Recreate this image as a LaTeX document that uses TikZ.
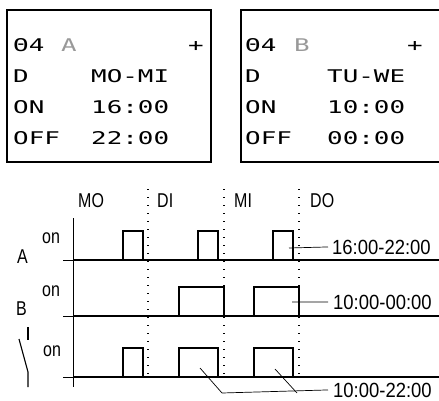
\documentclass[tikz,border=0pt]{standalone}
\usepackage{fontspec}
\newfontfamily\lcdfont[FakeStretch=1.48]{DejaVu Sans Mono}
\newfontfamily\condfont[FakeStretch=0.8]{Liberation Sans}
\newfontfamily\timefont[FakeStretch=0.9]{Liberation Sans}
\definecolor{lcdgray}{gray}{0.6}

\begin{document}
\begin{tikzpicture}[x=1pt,y=-1pt,
    lcd/.style={anchor=base west,inner sep=0pt,font=\lcdfont\fontsize{17.5}{20}\selectfont},
    lbl/.style={anchor=base west,inner sep=0pt,font=\condfont\fontsize{20}{22}\selectfont},
    tlbl/.style={anchor=base west,inner sep=0pt,font=\timefont\fontsize{20.5}{22}\selectfont},
    lcdframe/.style={line width=1.4pt},
    sig/.style={line width=2.8pt},
    baseln/.style={line width=0.8pt},
    daysep/.style={line width=1.3pt,dash pattern=on 1.3pt off 6.7pt},
    leader/.style={line width=0.7pt}]

\useasboundingbox (0,0) rectangle (439,401);

% ===== Displays =====
\draw[lcdframe] (7,10) rectangle (211,162);
\draw[lcdframe] (439,10) -- (241,10) -- (241,162) -- (439,162);

% display A
\node[lcd] (aId) at (13,52) {Θ4};
\node[lcd,text=lcdgray] (aCh) at (61,52) {A};
\node[lcd] (aPlus) at (188,52) {+};
\node[lcd] (aDay) at (13,83) {D};
\node[lcd] (aDays) at (91,83) {MO-MI};
\node[lcd] (aOn) at (13,114) {ON};
\node[lcd] (aOnT) at (91,114) {16:00};
\node[lcd] (aOff) at (13,145) {OFF};
\node[lcd] (aOffT) at (91,145) {22:00};

% display B
\node[lcd] (bId) at (245,52) {Θ4};
\node[lcd,text=lcdgray] (bCh) at (294,52) {B};
\node[lcd] (bPlus) at (407,52) {+};
\node[lcd] (bDay) at (245,83) {D};
\node[lcd] (bDays) at (327,83) {TU-WE};
\node[lcd] (bOn) at (245,114) {ON};
\node[lcd] (bOnT) at (327,114) {10:00};
\node[lcd] (bOff) at (245,145) {OFF};
\node[lcd] (bOffT) at (327,145) {00:00};

% ===== Day labels and separators =====
\foreach \x in {148,224,299} {
    \draw[daysep] (\x,189) -- (\x,376);
}
\node[lbl] (dMO) at (78,207) {MO};
\node[lbl] (dDI) at (157,207) {DI};
\node[lbl] (dMI) at (234,207) {MI};
\node[lbl] (dDO) at (310,207) {DO};

% ===== Axis and base lines =====
\draw[line width=1pt] (73,218) -- (73,387);
\foreach \y in {260,316,377} {
    \draw[baseln] (63,\y) -- (439,\y);
    \draw[sig] (73,\y) -- (439,\y);
}

% ===== Signals =====
\foreach \s/\e in {123/143,198/218,273/293} {
    \draw[sig] (\s,260) |- (\e,231) -- (\e,260);
}
\foreach \s/\e in {179/224,254/299} {
    \draw[sig] (\s,316) |- (\e,287) -- (\e,316);
}
\foreach \s/\e in {123/143,179/218,254/293} {
    \draw[sig] (\s,377) |- (\e,348) -- (\e,377);
}

% ===== Channel labels =====
\node[lbl] (onA) at (42,243) {on};
\node[lbl] (chA) at (17,263) {A};
\node[lbl] (onB) at (42,296) {on};
\node[lbl] (chB) at (16,315) {B};
\node[lbl] (onC) at (43,356) {on};

% switch contact
\draw[line width=1.1pt] (28,327) -- (28,340);
\draw[line width=1.1pt] (19,339) -- (28,372) -- (28,387);

% ===== Callouts =====
\node[tlbl] (tA) at (332,254) {16:00-22:00};
\node[tlbl] (tB) at (333,309) {10:00-00:00};
\node[tlbl] (tC) at (333,397) {10:00-22:00};
\coordinate (pA) at (289,248);
\coordinate (pB) at (292,302);
\coordinate (pC1) at (200,368);
\coordinate (pC2) at (275,369);
\coordinate (jC1) at (222,393);
\coordinate (jC2) at (297,393);
\draw[leader] (pA) -- ([xshift=-4pt]tA.west);
\draw[leader] (pB) -- ([xshift=-5pt]tB.west);
\draw[leader] (pC1) -- (jC1) -- ([xshift=-5pt]tC.west);
\draw[leader] (pC2) -- (jC2);

\end{tikzpicture}
\end{document}
